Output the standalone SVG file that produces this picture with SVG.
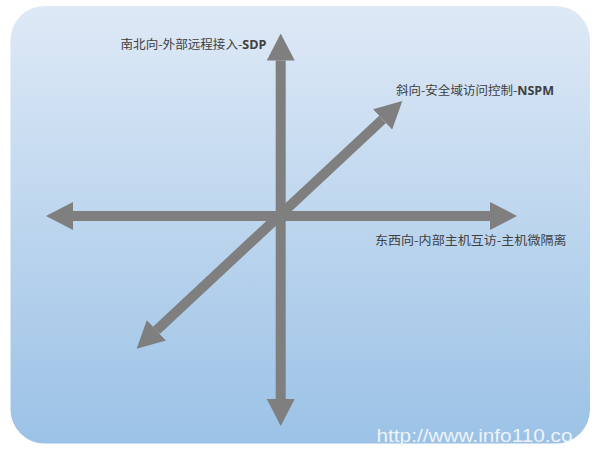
<svg xmlns="http://www.w3.org/2000/svg" width="600" height="452" viewBox="0 0 600 452">
  <defs>
    <linearGradient id="bg" x1="0" y1="0" x2="0" y2="1">
      <stop offset="0" stop-color="#dee9f6"/>
      <stop offset="1" stop-color="#9bc2e6"/>
    </linearGradient>
    <marker id="head" viewBox="0 0 27 28" refX="0" refY="14" markerWidth="27" markerHeight="28" markerUnits="userSpaceOnUse" orient="auto-start-reverse">
      <path d="M0,0 L27,14 L0,28 Z" fill="#7f7f7f"/>
    </marker>
  </defs>
  <style>
    .axis { stroke: #7f7f7f; stroke-width: 10; fill: none; marker-start: url(#head); marker-end: url(#head); }
    .lbl { font-family: "Noto Sans CJK SC", "Liberation Sans", sans-serif; font-size: 12px; fill: #3f3f3f; }
    .lat { font-family: "Open Sans", "Liberation Sans", sans-serif; font-weight: bold; }
    .wm { font-family: "Liberation Sans", Arial, sans-serif; font-size: 18px; fill: #eef3f8; }
  </style>
  <rect x="10.5" y="6" width="579.5" height="437.5" rx="34" ry="34" fill="url(#bg)"/>
  <g id="connectors">
    <line class="axis" x1="73" y1="216" x2="490" y2="216"/>
    <line class="axis" x1="280.7" y1="399" x2="280.7" y2="60.5"/>
    <line class="axis" x1="156.4" y1="330.3" x2="382.6" y2="119.4"/>
  </g>
  <g id="label-sdp">
    <text class="lbl" x="120.5" y="48.5" textLength="146" lengthAdjust="spacingAndGlyphs">南北向-外部远程接入-<tspan class="lat">SDP</tspan></text>
  </g>
  <g id="label-nspm">
    <text class="lbl" x="396" y="95" textLength="158" lengthAdjust="spacingAndGlyphs">斜向-安全域访问控制-<tspan class="lat">NSPM</tspan></text>
  </g>
  <g id="label-micro">
    <text class="lbl" x="375" y="245" textLength="191.5" lengthAdjust="spacingAndGlyphs">东西向-内部主机互访-主机微隔离</text>
  </g>
  <text class="wm" x="376.5" y="442" textLength="196" lengthAdjust="spacingAndGlyphs">http://www.info110.co</text>
</svg>
